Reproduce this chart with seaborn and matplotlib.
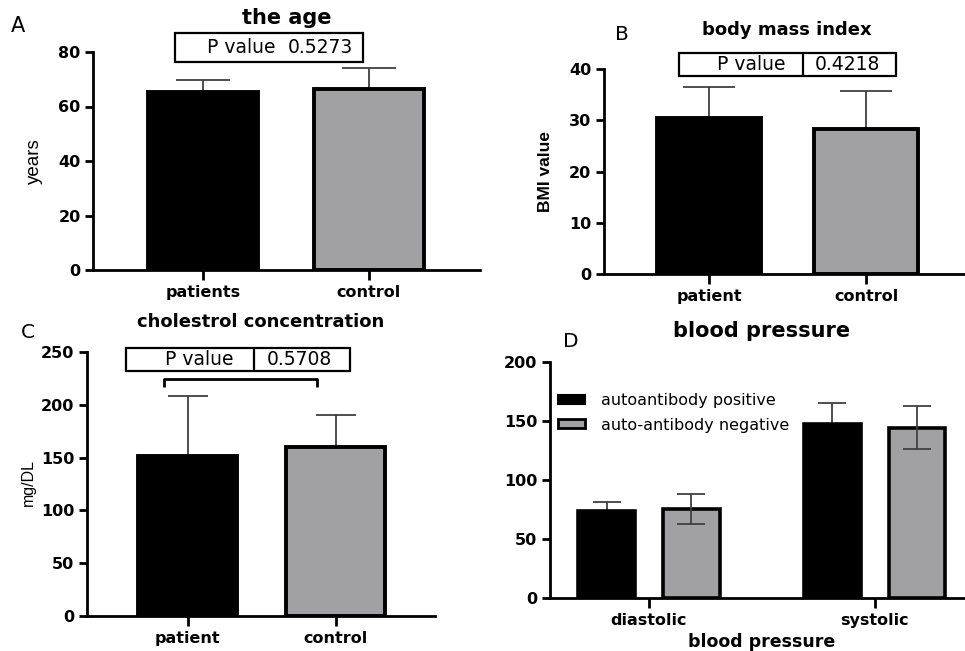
import matplotlib
matplotlib.use("Agg")
import matplotlib.pyplot as plt
from matplotlib.patches import Rectangle, Patch
import seaborn as sns
import pandas as pd
import numpy as np

sns.set_theme(style="ticks")
plt.rcParams['font.family'] = ['DejaVu Sans']
plt.rcParams['text.color'] = 'black'
plt.rcParams['axes.labelcolor'] = 'black'
plt.rcParams['xtick.color'] = 'black'
plt.rcParams['ytick.color'] = 'black'
plt.rcParams['axes.edgecolor'] = 'black'
NARROW = ['Liberation Sans', 'DejaVu Sans']

# ---------------- data ----------------
age_groups = ["patients", "control"]
age_means = [65.4, 66.3]
age_sd = [4.3, 7.7]
age_p = "0.5273"

bmi_groups = ["patient", "control"]
bmi_means = [30.5, 28.3]
bmi_sd = [6.0, 7.5]
bmi_p = "0.4218"

chol_groups = ["patient", "control"]
chol_means = [151.8, 160.0]
chol_sd = [57.0, 30.0]
chol_p = "0.5708"

bp_types = ["diastolic", "systolic"]
bp_groups = ["autoantibody positive", "auto-antibody negative"]
bp_pos_means = [73.8, 147.4]
bp_pos_sd = [7.4, 18.0]
bp_neg_means = [75.3, 144.3]
bp_neg_sd = [12.5, 18.0]

BLACK = "#000000"
GRAY = "#a0a0a5"
ERR = "#404040"

W, H = 965, 651
fig = plt.figure(figsize=(W / 100, H / 100), dpi=100)


def fx(x):
    return x / W


def fy(y):
    return 1 - y / H


def make_ax(left, right, top, bottom):
    return fig.add_axes([fx(left), fy(bottom), fx(right) - fx(left), (bottom - top) / H])


def style(ax, ylim, yticks):
    ax.set_ylim(*ylim)
    ax.set_yticks(yticks)
    for s in ["top", "right"]:
        ax.spines[s].set_visible(False)
    for s in ["left", "bottom"]:
        ax.spines[s].set_linewidth(2.0)
        ax.spines[s].set_color("black")
    ax.tick_params(axis="y", direction="out", length=6, width=2, pad=3, labelsize=11.5,
                   colors="black")
    ax.tick_params(axis="x", direction="out", length=7, width=2, pad=4, labelsize=11.5,
                   colors="black")
    for lab in ax.get_xticklabels() + ax.get_yticklabels():
        lab.set_fontweight("bold")
    ax.set_xlabel("")
    ax.set_ylabel("")
    ax.set_facecolor("white")


def simple_panel(ax, groups, means, sds, width, capsize):
    df = pd.DataFrame({"group": groups, "value": means})
    sns.barplot(data=df, x="group", y="value", hue="group", palette=[BLACK, GRAY],
                width=width, errorbar=None, edgecolor="black", linewidth=2.8,
                legend=False, ax=ax, zorder=2)
    ax.errorbar(np.arange(len(groups)), means, yerr=[np.zeros(len(sds)), sds],
                fmt="none", ecolor=ERR, elinewidth=1.3, capsize=capsize,
                capthick=1.3, zorder=1)


def pbox(x0, x1, y0, y1, divider, left_text, right_text, lx, rx, size):
    fig.add_artist(Rectangle((fx(x0), fy(y1)), fx(x1) - fx(x0), (y1 - y0) / H,
                             transform=fig.transFigure, fill=False,
                             edgecolor="black", linewidth=1.6))
    if divider is not None:
        fig.add_artist(plt.Line2D([fx(divider), fx(divider)], [fy(y0), fy(y1)],
                                  transform=fig.transFigure, color="black", linewidth=1.6))
    yc = fy((y0 + y1) / 2)
    fig.text(fx(lx), yc, left_text, ha="left", va="center", fontsize=size)
    fig.text(fx(rx), yc, right_text, ha="left", va="center", fontsize=size)


# ---------------- Panel A ----------------
axA = make_ax(93, 480, 52, 270)
simple_panel(axA, age_groups, age_means, age_sd, 0.663, 19.5)
axA.set_xlim(-0.663, 1.669)
style(axA, (0, 80), [0, 20, 40, 60, 80])
fig.text(fx(287), fy(18), "the age", ha="center", va="center", fontsize=15, fontweight="bold")
fig.text(fx(11), fy(26), "A", ha="left", va="center", fontsize=15)
fig.text(fx(34), fy(161), "years", rotation=90, ha="center", va="center", fontsize=13.5, family=NARROW)
pbox(175, 363, 33, 62, None, "P value", age_p, 207, 288, 13.5)

# ---------------- Panel B ----------------
axB = make_ax(604, 965, 69, 274)
simple_panel(axB, bmi_groups, bmi_means, bmi_sd, 0.66, 18.4)
axB.set_xlim(-0.669, 1.63)
style(axB, (0, 40), [0, 10, 20, 30, 40])
fig.text(fx(787), fy(30), "body mass index", ha="center", va="center", fontsize=13, fontweight="bold")
fig.text(fx(615), fy(35), "B", ha="left", va="center", fontsize=14.5)
fig.text(fx(545), fy(171), "BMI value", rotation=90, ha="center", va="center", fontsize=12.5,
         family=NARROW, fontweight="bold")
pbox(679, 896, 53, 76, 803, "P value", bmi_p, 717, 815, 13.5)

# ---------------- Panel C ----------------
axC = make_ax(87, 435, 352, 616)
simple_panel(axC, chol_groups, chol_means, chol_sd, 0.67, 14.7)
axC.set_xlim(-0.68, 1.67)
style(axC, (0, 250), [0, 50, 100, 150, 200, 250])
fig.text(fx(261), fy(322), "cholestrol concentration", ha="center", va="center", fontsize=13, fontweight="bold")
fig.text(fx(21), fy(333), "C", ha="left", va="center", fontsize=14.5)
fig.text(fx(28), fy(483), "mg/DL", rotation=90, ha="center", va="center", fontsize=11.5, family=NARROW)
pbox(126, 350, 348, 371, 254, "P value", chol_p, 165, 267, 13.5)
# significance bracket
axC.plot([-0.16, -0.16, 0.87, 0.87], [217, 224.4, 224.4, 217], color="black",
         linewidth=2.0, clip_on=False, solid_capstyle="butt")

# ---------------- Panel D ----------------
axD = make_ax(550, 965, 362, 597.7)
df_bp = pd.DataFrame({
    "type": bp_types * 2,
    "group": [bp_groups[0]] * 2 + [bp_groups[1]] * 2,
    "value": bp_pos_means + bp_neg_means,
})
sns.barplot(data=df_bp, x="type", y="value", hue="group", hue_order=bp_groups,
            palette=[BLACK, GRAY], width=0.75, gap=0.33, errorbar=None,
            edgecolor="black", linewidth=2.6, legend=False, ax=axD, zorder=2)
for i, (cont, means, sds) in enumerate(zip(axD.containers, [bp_pos_means, bp_neg_means],
                                           [bp_pos_sd, bp_neg_sd])):
    xs = [p.get_x() + p.get_width() / 2 for p in cont.patches]
    lower = np.zeros(len(sds)) if i == 0 else np.array(sds)
    axD.errorbar(xs, means, yerr=[lower, sds], fmt="none", ecolor=ERR, elinewidth=1.3,
                 capsize=10, capthick=1.3, zorder=1 if i == 0 else 3)
axD.set_xlim(-0.438, 1.40)
style(axD, (0, 200), [0, 50, 100, 150, 200])
handles = [Patch(facecolor=BLACK, edgecolor="black", linewidth=1.5),
           Patch(facecolor=GRAY, edgecolor="black", linewidth=2.0)]
axD.legend(handles, bp_groups, loc="upper left", bbox_to_anchor=(fx(558), fy(393)),
           bbox_transform=fig.transFigure, frameon=False, fontsize=11.5,
           handlelength=1.7, handleheight=0.5, handletextpad=1.0,
           labelspacing=0.6, borderpad=0, borderaxespad=0)
fig.text(fx(762), fy(331), "blood pressure", ha="center", va="center", fontsize=15, fontweight="bold")
fig.text(fx(563), fy(342), "D", ha="left", va="center", fontsize=14.5)
fig.text(fx(762), fy(642), "blood pressure", ha="center", va="center", fontsize=12.5, fontweight="bold")

fig.savefig("out.png", dpi=100, facecolor="white")
